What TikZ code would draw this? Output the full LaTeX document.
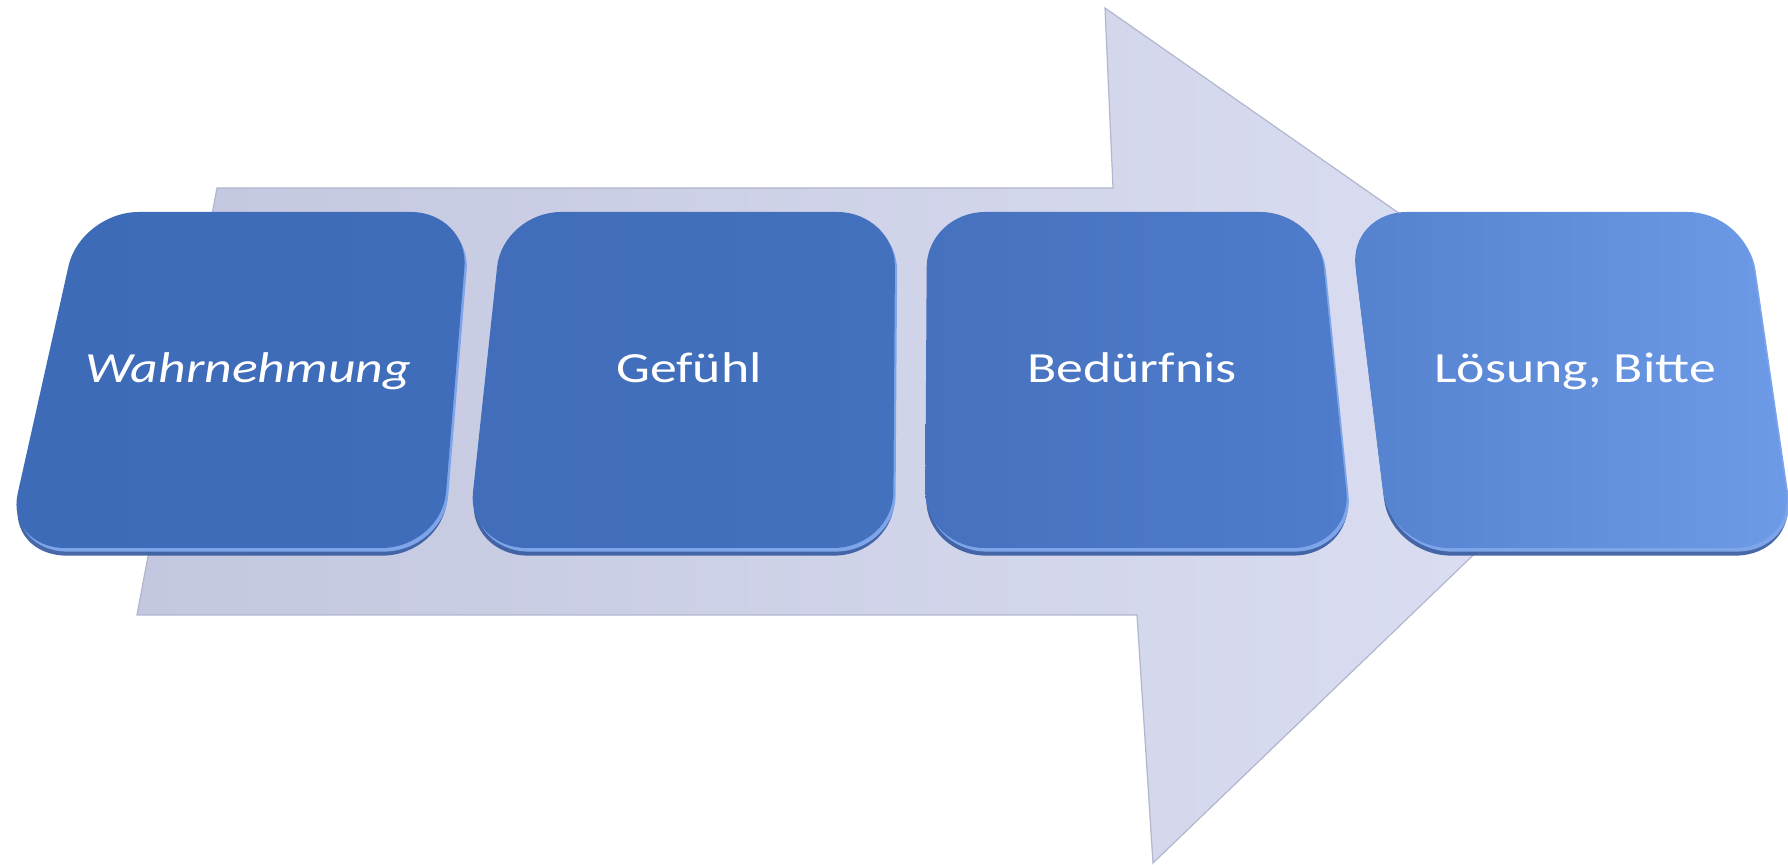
\documentclass[tikz,border=0pt]{standalone}
\usepackage{graphicx}
\usepackage{fontspec}
\setmainfont{Carlito}
\newfontfamily\boxfont{Carlito}
\usetikzlibrary{calc}
\definecolor{arrowL}{HTML}{C3C7DF}
\definecolor{arrowR}{HTML}{DDE0F3}
\definecolor{arrowEdge}{HTML}{B2B6CE}
\definecolor{rimLight}{HTML}{7EA5EA}
\definecolor{rimDark}{HTML}{34599E}
\definecolor{aL}{HTML}{3E6BB8}\definecolor{aR}{HTML}{3F6DBA}
\definecolor{bL}{HTML}{416DBA}\definecolor{bR}{HTML}{4371BD}
\definecolor{cL}{HTML}{4671BF}\definecolor{cR}{HTML}{4F7DCB}
\definecolor{dL}{HTML}{5482CF}\definecolor{dR}{HTML}{6E9BE7}
\newcommand{\crTH}{29pt}
\newcommand{\crTV}{27.5pt}
\newcommand{\crBH}{30pt}
\newcommand{\crBV}{28pt}
\newcommand{\ckTH}{13pt}
\newcommand{\ckTV}{12.3pt}
\newcommand{\ckBH}{13.4pt}
\newcommand{\ckBV}{12.5pt}
\newcommand{\boxpath}[4]{%
 ($(#1)!\crTH!(#2)$) -- ($(#2)!\crTH!(#1)$)
 .. controls ($(#2)!\ckTH!(#1)$) and ($(#2)!\ckTV!(#3)$) .. ($(#2)!\crTV!(#3)$)
 -- ($(#3)!\crBV!(#2)$)
 .. controls ($(#3)!\ckBV!(#2)$) and ($(#3)!\ckBH!(#4)$) .. ($(#3)!\crBH!(#4)$)
 -- ($(#4)!\crBH!(#3)$)
 .. controls ($(#4)!\ckBH!(#3)$) and ($(#4)!\ckBV!(#1)$) .. ($(#4)!\crBV!(#1)$)
 -- ($(#1)!\crTV!(#4)$)
 .. controls ($(#1)!\ckTV!(#4)$) and ($(#1)!\ckTH!(#2)$) .. ($(#1)!\crTH!(#2)$) -- cycle}
\newcommand{\drawbox}[4]{%
 \begin{scope}[transform canvas={shift={(0.5pt,-3.8pt)}}]
  \fill[rimDark,opacity=0.9] \boxpath{#1TL}{#1TR}{#1BR}{#1BL};
 \end{scope}
 \begin{scope}[transform canvas={shift={(1.1pt,-1.8pt)}}]
  \fill[rimLight] \boxpath{#1TL}{#1TR}{#1BR}{#1BL};
 \end{scope}
 \shade[left color=#1L,right color=#1R] \boxpath{#1TL}{#1TR}{#1BR}{#1BL};
 \node[boxtext,anchor=base] (#1txt) at (#2,383) {\scalebox{1.25}[1]{#3#4}};
}
\tikzset{
  boxtext/.style={text=white,font=\boxfont\fontsize{21.5}{25}\selectfont,inner sep=0pt},
  arrowshape/.style={left color=arrowL,right color=arrowR,draw=arrowEdge,line width=0.6pt,line join=miter}
}
\begin{document}
\begin{tikzpicture}[x=0.5pt,y=-0.5pt]
\clip (0,0) rectangle (1788,865);
\fill[white] (0,0) rectangle (1788,865);
% big arrow
\coordinate (sTL) at (217,188);
\coordinate (sTR) at (1113,188);
\coordinate (hT) at (1105,8);
\coordinate (tip) at (1648,387);
\coordinate (hB) at (1153,863);
\coordinate (sBR) at (1137,615);
\coordinate (sBL) at (137,615);
\shade[arrowshape] (sTL) -- (sTR) -- (hT) -- (tip) -- (hB) -- (sBR) -- (sBL) -- cycle;
% box corners
\coordinate (aTL) at (80.6,212);  \coordinate (aTR) at (468.9,212);
\coordinate (aBR) at (441.5,548); \coordinate (aBL) at (5.5,548);
\coordinate (bTL) at (503,212);   \coordinate (bTR) at (895.3,212);
\coordinate (bBR) at (893,548);   \coordinate (bBL) at (467,548);
\coordinate (cTL) at (927,212);   \coordinate (cTR) at (1318.2,212);
\coordinate (cBR) at (1352,548);  \coordinate (cBL) at (925,548);
\coordinate (dTL) at (1348.8,212);\coordinate (dTR) at (1745.4,212);
\coordinate (dBR) at (1794.5,548);\coordinate (dBL) at (1390,548);
\drawbox{a}{248}{\itshape}{Wahrnehmung}
\drawbox{b}{689}{}{Gefühl}
\drawbox{c}{1132}{}{Bedürfnis}
\drawbox{d}{1575}{}{Lösung, Bitte}
\end{tikzpicture}
\end{document}
